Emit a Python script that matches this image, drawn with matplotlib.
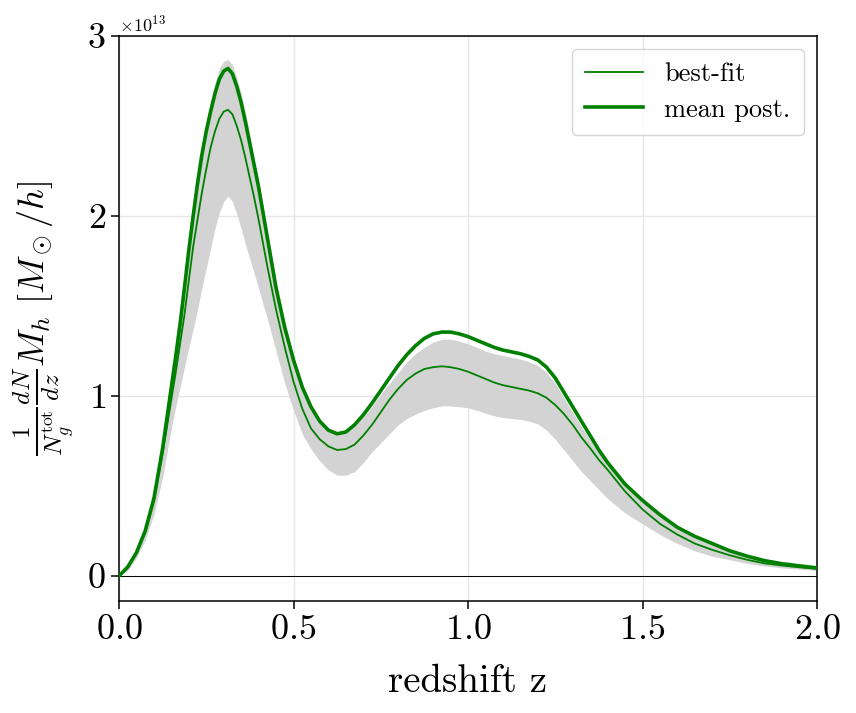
import matplotlib
matplotlib.use("Agg")
import matplotlib.pyplot as plt
import numpy as np

# redshift grid (read points)
z = [0.0, 0.025, 0.05, 0.075, 0.1, 0.125, 0.15,
     0.1625, 0.175, 0.1875, 0.2, 0.2125, 0.225, 0.2375, 0.25, 0.2625, 0.275,
     0.2875, 0.3, 0.3125, 0.325, 0.3375, 0.35, 0.3625, 0.375, 0.3875, 0.4,
     0.4125, 0.425, 0.4375, 0.45,
     0.475, 0.5, 0.525, 0.55, 0.575, 0.6, 0.625, 0.65, 0.675, 0.7, 0.725, 0.75,
     0.775, 0.8, 0.825, 0.85, 0.875, 0.9, 0.925, 0.95, 0.975, 1.0, 1.025, 1.05,
     1.075, 1.1, 1.125, 1.15, 1.175, 1.2, 1.225, 1.25, 1.275, 1.3, 1.325, 1.35,
     1.375, 1.4,
     1.45, 1.5, 1.55, 1.6, 1.65, 1.7, 1.75, 1.8, 1.85, 1.9, 1.95, 2.0]

# mean posterior (units of 1e13)
mean_post = [0.0, 0.05, 0.13, 0.25, 0.43, 0.71, 1.05,
             1.22, 1.40, 1.60, 1.81, 2.00, 2.18, 2.34, 2.47, 2.58, 2.68,
             2.76, 2.805, 2.82, 2.79, 2.72, 2.63, 2.52, 2.40, 2.28, 2.16,
             2.02, 1.88, 1.74, 1.60,
             1.38, 1.20, 1.05, 0.94, 0.86, 0.81, 0.79, 0.80, 0.84, 0.895, 0.96, 1.03,
             1.10, 1.17, 1.23, 1.28, 1.32, 1.345, 1.355, 1.355, 1.345, 1.33, 1.31, 1.29,
             1.27, 1.255, 1.245, 1.235, 1.22, 1.20, 1.16, 1.10, 1.02, 0.94, 0.86, 0.78,
             0.70, 0.63,
             0.51, 0.42, 0.34, 0.27, 0.22, 0.18, 0.14, 0.11, 0.085, 0.068, 0.056, 0.045]

# best fit (units of 1e13)
best_fit = [0.0, 0.05, 0.13, 0.24, 0.42, 0.68, 0.98,
            1.13, 1.29, 1.45, 1.64, 1.83, 1.98, 2.13, 2.26, 2.38, 2.47,
            2.54, 2.58, 2.59, 2.565, 2.50, 2.42, 2.32, 2.21, 2.10, 1.98,
            1.85, 1.72, 1.60, 1.48,
            1.27, 1.08, 0.93, 0.82, 0.76, 0.72, 0.70, 0.705, 0.73, 0.78, 0.84, 0.91,
            0.98, 1.04, 1.09, 1.125, 1.15, 1.16, 1.165, 1.16, 1.15, 1.135, 1.115, 1.095,
            1.075, 1.06, 1.05, 1.04, 1.03, 1.015, 0.99, 0.95, 0.90, 0.84, 0.77, 0.71,
            0.645, 0.59,
            0.47, 0.37, 0.29, 0.23, 0.18, 0.145, 0.115, 0.09, 0.07, 0.058, 0.048, 0.04]

# posterior band (units of 1e13)
band_low = [0.0, 0.03, 0.10, 0.20, 0.34, 0.55, 0.82,
            0.94, 1.05, 1.16, 1.27, 1.37, 1.48, 1.60, 1.71, 1.82, 1.93,
            2.02, 2.08, 2.11, 2.08, 2.01, 1.93, 1.84, 1.76, 1.68, 1.60,
            1.51, 1.43, 1.34, 1.25,
            1.07, 0.92, 0.79, 0.705, 0.64, 0.59, 0.56, 0.56, 0.58, 0.63, 0.69, 0.74,
            0.79, 0.84, 0.875, 0.90, 0.92, 0.935, 0.945, 0.945, 0.94, 0.935, 0.92, 0.905,
            0.89, 0.88, 0.875, 0.87, 0.86, 0.845, 0.81, 0.76, 0.70, 0.64, 0.58, 0.53,
            0.48, 0.43,
            0.35, 0.29, 0.23, 0.18, 0.14, 0.11, 0.09, 0.07, 0.055, 0.045, 0.038, 0.03]

band_high = [0.0, 0.05, 0.14, 0.26, 0.45, 0.73, 1.08,
             1.26, 1.45, 1.65, 1.86, 2.05, 2.23, 2.39, 2.53, 2.64, 2.74,
             2.82, 2.86, 2.87, 2.84, 2.77, 2.68, 2.57, 2.45, 2.32, 2.20,
             2.06, 1.92, 1.78, 1.64,
             1.41, 1.22, 1.06, 0.95, 0.87, 0.815, 0.79, 0.80, 0.835, 0.885, 0.945, 1.01,
             1.07, 1.13, 1.19, 1.235, 1.27, 1.30, 1.315, 1.315, 1.305, 1.29, 1.27, 1.25,
             1.235, 1.225, 1.215, 1.205, 1.19, 1.17, 1.13, 1.07, 0.99, 0.91, 0.83, 0.755,
             0.685, 0.62,
             0.50, 0.41, 0.33, 0.26, 0.21, 0.17, 0.135, 0.105, 0.082, 0.066, 0.055, 0.045]

xticks = [0.0, 0.5, 1.0, 1.5, 2.0]
yticks = [0, 1, 2, 3]
SCALE = 1e13

plt.rcParams['mathtext.fontset'] = 'cm'
plt.rcParams['font.family'] = 'serif'
plt.rcParams['font.serif'] = ['cmr10', 'DejaVu Serif']
plt.rcParams['axes.formatter.use_mathtext'] = True

fig = plt.figure(figsize=(8.56, 7.13), dpi=100)
ax = fig.add_axes([119/856, 1-601/713, (817-119)/856, (601-36)/713])

zz = np.array(z)
ax.fill_between(zz, np.array(band_low)*SCALE, np.array(band_high)*SCALE,
                color='lightgray', lw=0, zorder=1)
ax.plot(zz, np.array(best_fit)*SCALE, color='green', lw=1.3, label='best-fit', zorder=3)
ax.plot(zz, np.array(mean_post)*SCALE, color='green', lw=2.6, label='mean post.', zorder=4)
ax.axhline(0, color='black', lw=0.7, zorder=2)

ax.set_xlim(0, 2)
ax.set_ylim(-0.139*SCALE, 3.0*SCALE)
ax.set_xticks(xticks)
ax.set_yticks([t*SCALE for t in yticks])
ax.grid(True, color='#e6e6e6', lw=1.0, zorder=0)
ax.set_axisbelow(True)

ax.tick_params(axis='both', which='major', labelsize=26, length=6, width=1.1, direction='out')
ax.yaxis.get_offset_text().set_fontsize(13)
for s in ax.spines.values():
    s.set_linewidth(1.1)

ax.set_xlabel('redshift z', fontsize=28, labelpad=13)
ax.set_ylabel(r'$\frac{1}{N_g^{\rm tot}}\frac{dN}{dz}M_h\ [M_\odot/h]$', fontsize=26, labelpad=8)

leg = ax.legend(loc='upper right', fontsize=19, frameon=True, fancybox=True,
                edgecolor='#cccccc', framealpha=0.8, borderpad=0.5, handlelength=2.2,
                labelspacing=0.45, borderaxespad=0.5)

fig.savefig('out.png', dpi=100)
